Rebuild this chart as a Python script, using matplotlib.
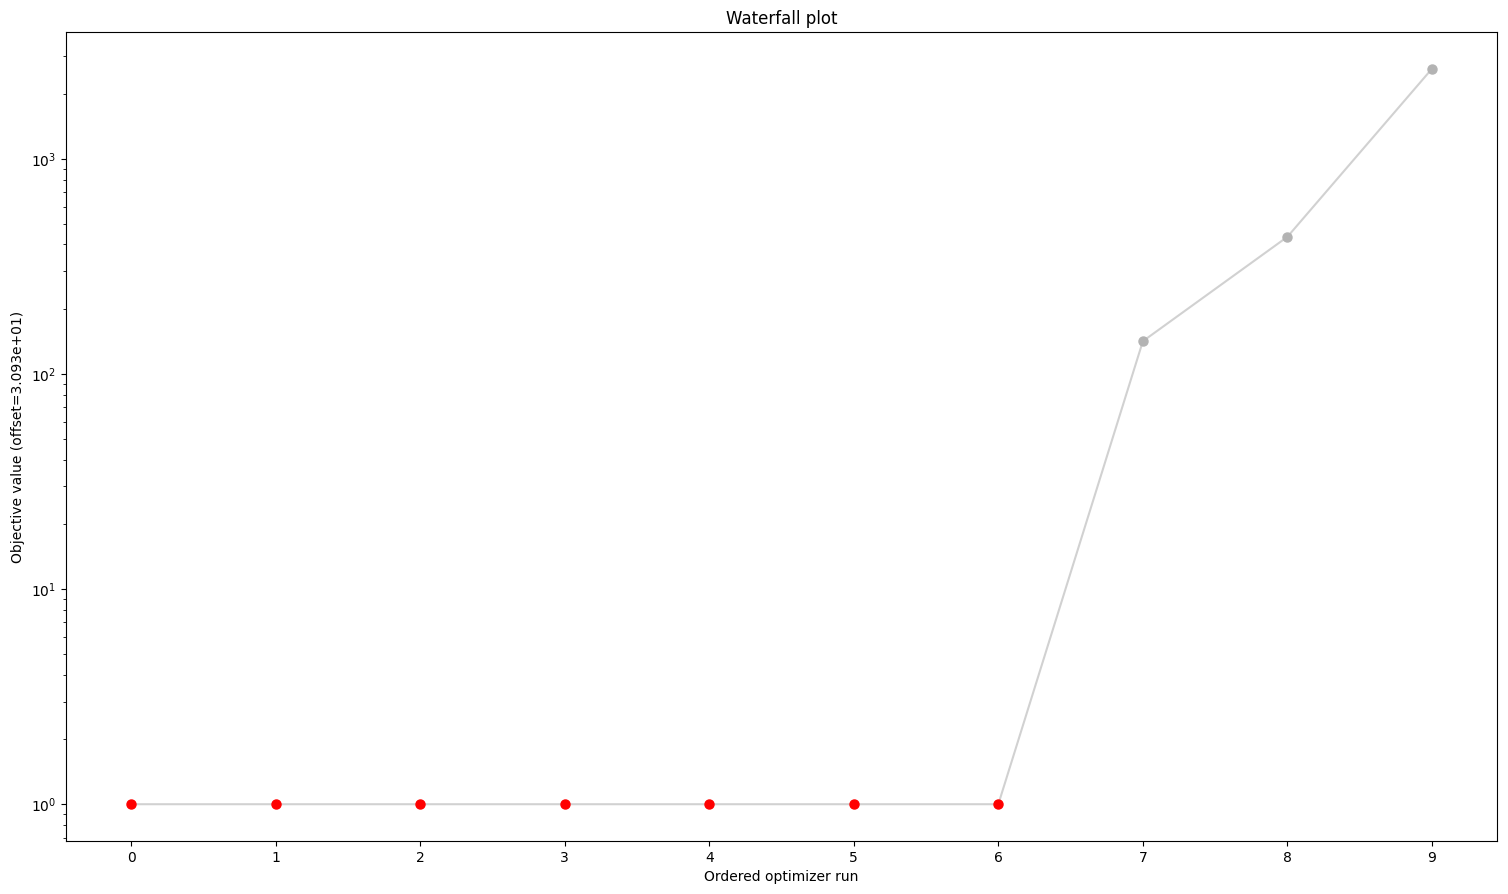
import numpy as np
import matplotlib
matplotlib.use('Agg')
import matplotlib.pyplot as plt

# ordered runs and objective values (offset already applied)
runs = [0, 1, 2, 3, 4, 5, 6, 7, 8, 9]
fvals = [1.0, 1.0, 1.0, 1.0, 1.0, 1.0, 1.0, 142.0, 434.0, 2622.0]
offset = 3.093e+01
# cluster membership: best-start cluster drawn red, others gray
in_best = [True, True, True, True, True, True, True, False, False, False]

fig, ax = plt.subplots(figsize=(15.08, 8.94), dpi=100)

ax.plot(runs, fvals, color=[0.7, 0.7, 0.7, 0.6], linewidth=1.5, zorder=1)
for x, y, best in zip(runs, fvals, in_best):
    c = [1.0, 0.0, 0.0] if best else [0.7, 0.7, 0.7]
    ax.plot(x, y, 'o', color=c, markersize=6.5, zorder=2)

ax.set_yscale('log')
ax.set_xticks(runs)
ax.set_xlabel('Ordered optimizer run')
ax.set_ylabel('Objective value (offset={:0.3e})'.format(offset))
ax.set_title('Waterfall plot')

fig.subplots_adjust(left=0.0438, right=0.9927, top=0.9642, bottom=0.0593)
fig.savefig('out.png')
